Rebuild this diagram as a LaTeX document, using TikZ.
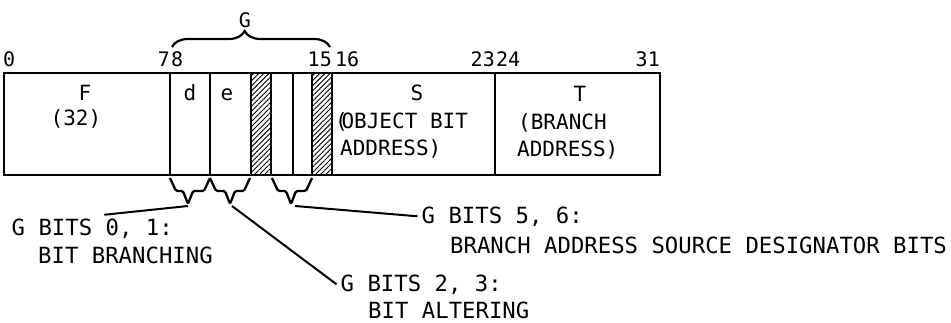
\documentclass[tikz,border=0pt]{standalone}
\usepackage{fontspec}
\newfontfamily\regfont{DejaVu Sans Mono}
\usetikzlibrary{decorations.pathreplacing,patterns.meta}

\begin{document}
\begin{tikzpicture}[x=1pt,y=-1pt,
    reg/.style={line width=2.5pt},
    hatch/.style={reg,pattern={Lines[angle=45,distance=3.6pt,line width=0.9pt]}},
    gbrace/.style={line width=2.2pt,decorate,decoration={brace,amplitude=16pt,aspect=0.46}},
    bitbrace/.style={line width=2.3pt,line join=round,rounded corners=1.5pt},
    lead/.style={line width=2pt},
    bitnum/.style={font=\regfont\fontsize{20}{20}\selectfont,inner sep=0pt},
    field/.style={font=\regfont\fontsize{21}{21}\selectfont,inner sep=0pt},
    note/.style={font=\regfont\fontsize{22.3}{22.3}\selectfont,inner sep=4pt,anchor=base west}]

\useasboundingbox (0,0) rectangle (951,322);

% instruction word
\draw[reg] (4,73) rectangle (660,175);
\foreach \x in {170,210,293,495}
  \draw[reg] (\x,73) -- (\x,175);
\draw[hatch] (251,73) rectangle (271,175);
\draw[hatch] (312,73) rectangle (332,175);

% bit numbers
\node[bitnum,anchor=base west] (n0) at (3,66) {0};
\node[bitnum,anchor=base east] (n7) at (170,66) {7};
\node[bitnum,anchor=base west] (n8) at (171,66) {8};
\node[bitnum,anchor=base east] (n15) at (332,66) {15};
\node[bitnum,anchor=base west] (n16) at (335,66) {16};
\node[bitnum,anchor=base east] (n23) at (495,66) {23};
\node[bitnum,anchor=base west] (n24) at (496,66) {24};
\node[bitnum,anchor=base east] (n31) at (660,66) {31};

\draw[gbrace] (172,47) -- (330,47);
\node[bitnum,anchor=base] (g) at (245,27) {G};

% field names
\node[field,anchor=base] (f) at (85,100) {F};
\node[field,anchor=base] (fw) at (76,125) {(32)};
\node[field,anchor=base] (d) at (190,100) {d};
\node[field,anchor=base] (e) at (227,100) {e};
\node[field,anchor=base] (s) at (417,100) {S};
\node[field,anchor=base west] (s1) at (335,128) {(\kern-.3em OBJECT BIT};
\node[field,anchor=base west] (s2) at (340,155) {ADDRESS)};
\node[field,anchor=base] (t) at (580,101) {T};
\node[field,anchor=base west] (t1) at (518,129) {(BRANCH};
\node[field,anchor=base west] (t2) at (517,156) {ADDRESS)};

% braces under the G bits
\foreach \a/\m/\b/\n in {170/188/210/br01,210/230/250/br23,272/291/312/br56} {
  \draw[bitbrace] (\a,178) -- (\a+6,191) -- (\m-5,191) -- (\m,204)
    -- (\m+5,191) -- (\b-6,191) -- (\b,178);
  \coordinate (\n) at (\m,206);
}

% notes
\node[note] (g01) at (7.5,235.5) {G BITS 0, 1:};
\node[note] (g01x) at (34,263) {BIT BRANCHING};
\node[note] (g23) at (336.5,291) {G BITS 2, 3:};
\node[note] (g23x) at (364,318) {BIT ALTERING};
\node[note] (g56) at (417.5,223) {G BITS 5, 6:};
\node[note] (g56x) at (446,253) {BRANCH ADDRESS SOURCE DESIGNATOR BITS};

\draw[lead] (br01) -- ([xshift=12pt]g01.north);
\draw[lead] ([xshift=2pt]br23) -- (g23.west);
\draw[lead] ([xshift=4pt]br56) -- (g56.west);
\end{tikzpicture}
\end{document}
